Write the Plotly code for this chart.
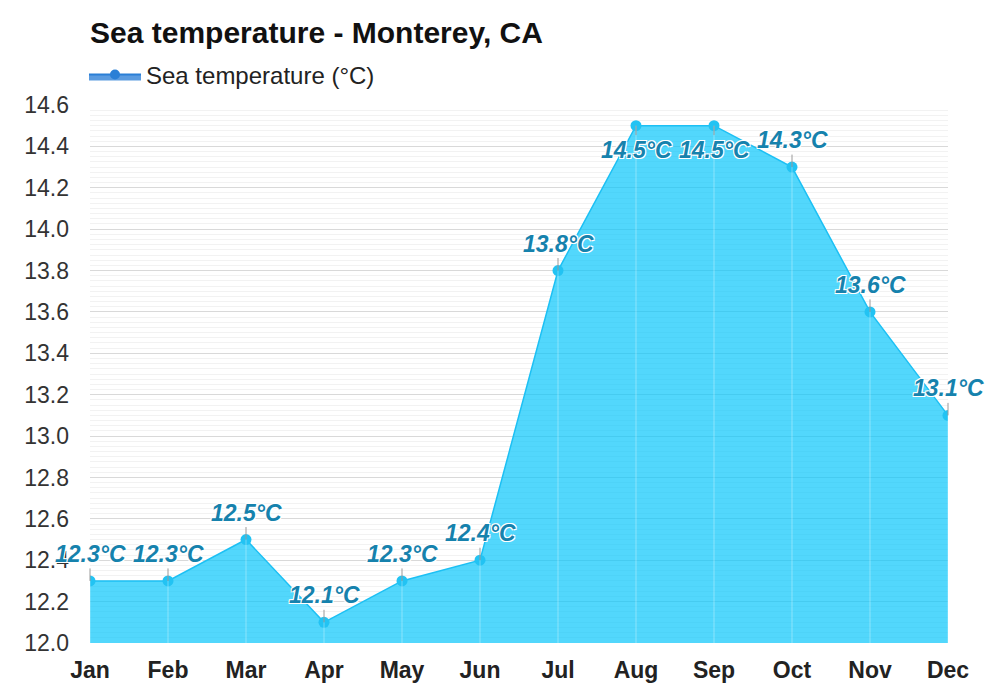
import plotly.graph_objects as go

# monthly sea temperature, Monterey CA
months = ["Jan", "Feb", "Mar", "Apr", "May", "Jun", "Jul", "Aug", "Sep", "Oct", "Nov", "Dec"]
sea_temp = [12.3, 12.3, 12.5, 12.1, 12.3, 12.4, 13.8, 14.5, 14.5, 14.3, 13.6, 13.1]
y_ticks = [12.0, 12.2, 12.4, 12.6, 12.8, 13.0, 13.2, 13.4, 13.6, 13.8, 14.0, 14.2, 14.4, 14.6]

FONT = "Liberation Sans, Arial, sans-serif"
LABEL_COLOR = "#1682ad"
OUTLINE = "-1px -1px 0 #fff, 1px -1px 0 #fff, -1px 1px 0 #fff, 1px 1px 0 #fff"

fig = go.Figure()

fig.add_trace(go.Scatter(
    x=months,
    y=sea_temp,
    mode="lines+markers",
    fill="tozeroy",
    fillcolor="rgba(0,196,250,0.68)",
    line=dict(color="#1cc0f4", width=1.5),
    marker=dict(color="#22c3f3", size=11),
    showlegend=False,
    hoverinfo="x+y",
))

# legend-only entry (darker blue like the original legend swatch)
fig.add_trace(go.Scatter(
    x=[None],
    y=[None],
    mode="lines+markers",
    fill="tozeroy",
    fillcolor="#5a9be0",
    line=dict(color="#2a7fd6", width=2),
    marker=dict(color="#2a7fd6", size=10),
    name="Sea temperature (°C)",
))

# light vertical lines drawn over the filled area
for m, v in zip(months, sea_temp):
    fig.add_shape(type="line", x0=m, x1=m, y0=12.0, y1=v, xref="x", yref="y",
                  line=dict(color="rgba(255,255,255,0.35)", width=1), layer="above")

# value labels, below the point near the top of the chart
for m, v in zip(months, sea_temp):
    ay = 24 if v >= 14.5 else -27
    fig.add_annotation(
        x=m, y=v, text=f"{v}°C",
        showarrow=True, arrowhead=0, arrowwidth=1, arrowcolor="#9a9a9a",
        ax=0, ay=ay, standoff=0,
        font=dict(family=FONT, size=23, color=LABEL_COLOR, weight="bold",
                  style="italic", shadow=OUTLINE),
    )

fig.update_layout(
    width=992,
    height=692,
    margin=dict(l=82, r=52, t=97, b=57),
    paper_bgcolor="white",
    plot_bgcolor="white",
    font=dict(family=FONT, color="#333"),
    title=dict(text="<b>Sea temperature - Monterey, CA</b>", xref="paper", x=0,
               xanchor="left", yref="container", y=0.965, yanchor="middle",
               font=dict(size=30, color="#111")),
    legend=dict(orientation="h", x=-0.007, xanchor="left", y=1.056, yanchor="middle",
                itemwidth=52, font=dict(size=24, color="#222"),
                bgcolor="rgba(0,0,0,0)"),
    xaxis=dict(
        range=[0, 11],
        showgrid=False,
        showline=False,
        zeroline=False,
        ticks="",
        ticklabelstandoff=11,
        tickfont=dict(size=23, color="#222", weight="bold"),
    ),
    yaxis=dict(
        range=[12.0, 14.6],
        tickvals=y_ticks,
        ticktext=[f"{t:.1f}" for t in y_ticks],
        showgrid=True,
        gridcolor="#d9d9d9",
        gridwidth=1,
        zeroline=False,
        ticks="",
        ticklabelstandoff=20,
        tickfont=dict(size=23, color="#333"),
        minor=dict(dtick=0.025, showgrid=True, gridcolor="#f2f2f2", gridwidth=1),
    ),
    hovermode="closest",
)

fig.write_html("out.html")
